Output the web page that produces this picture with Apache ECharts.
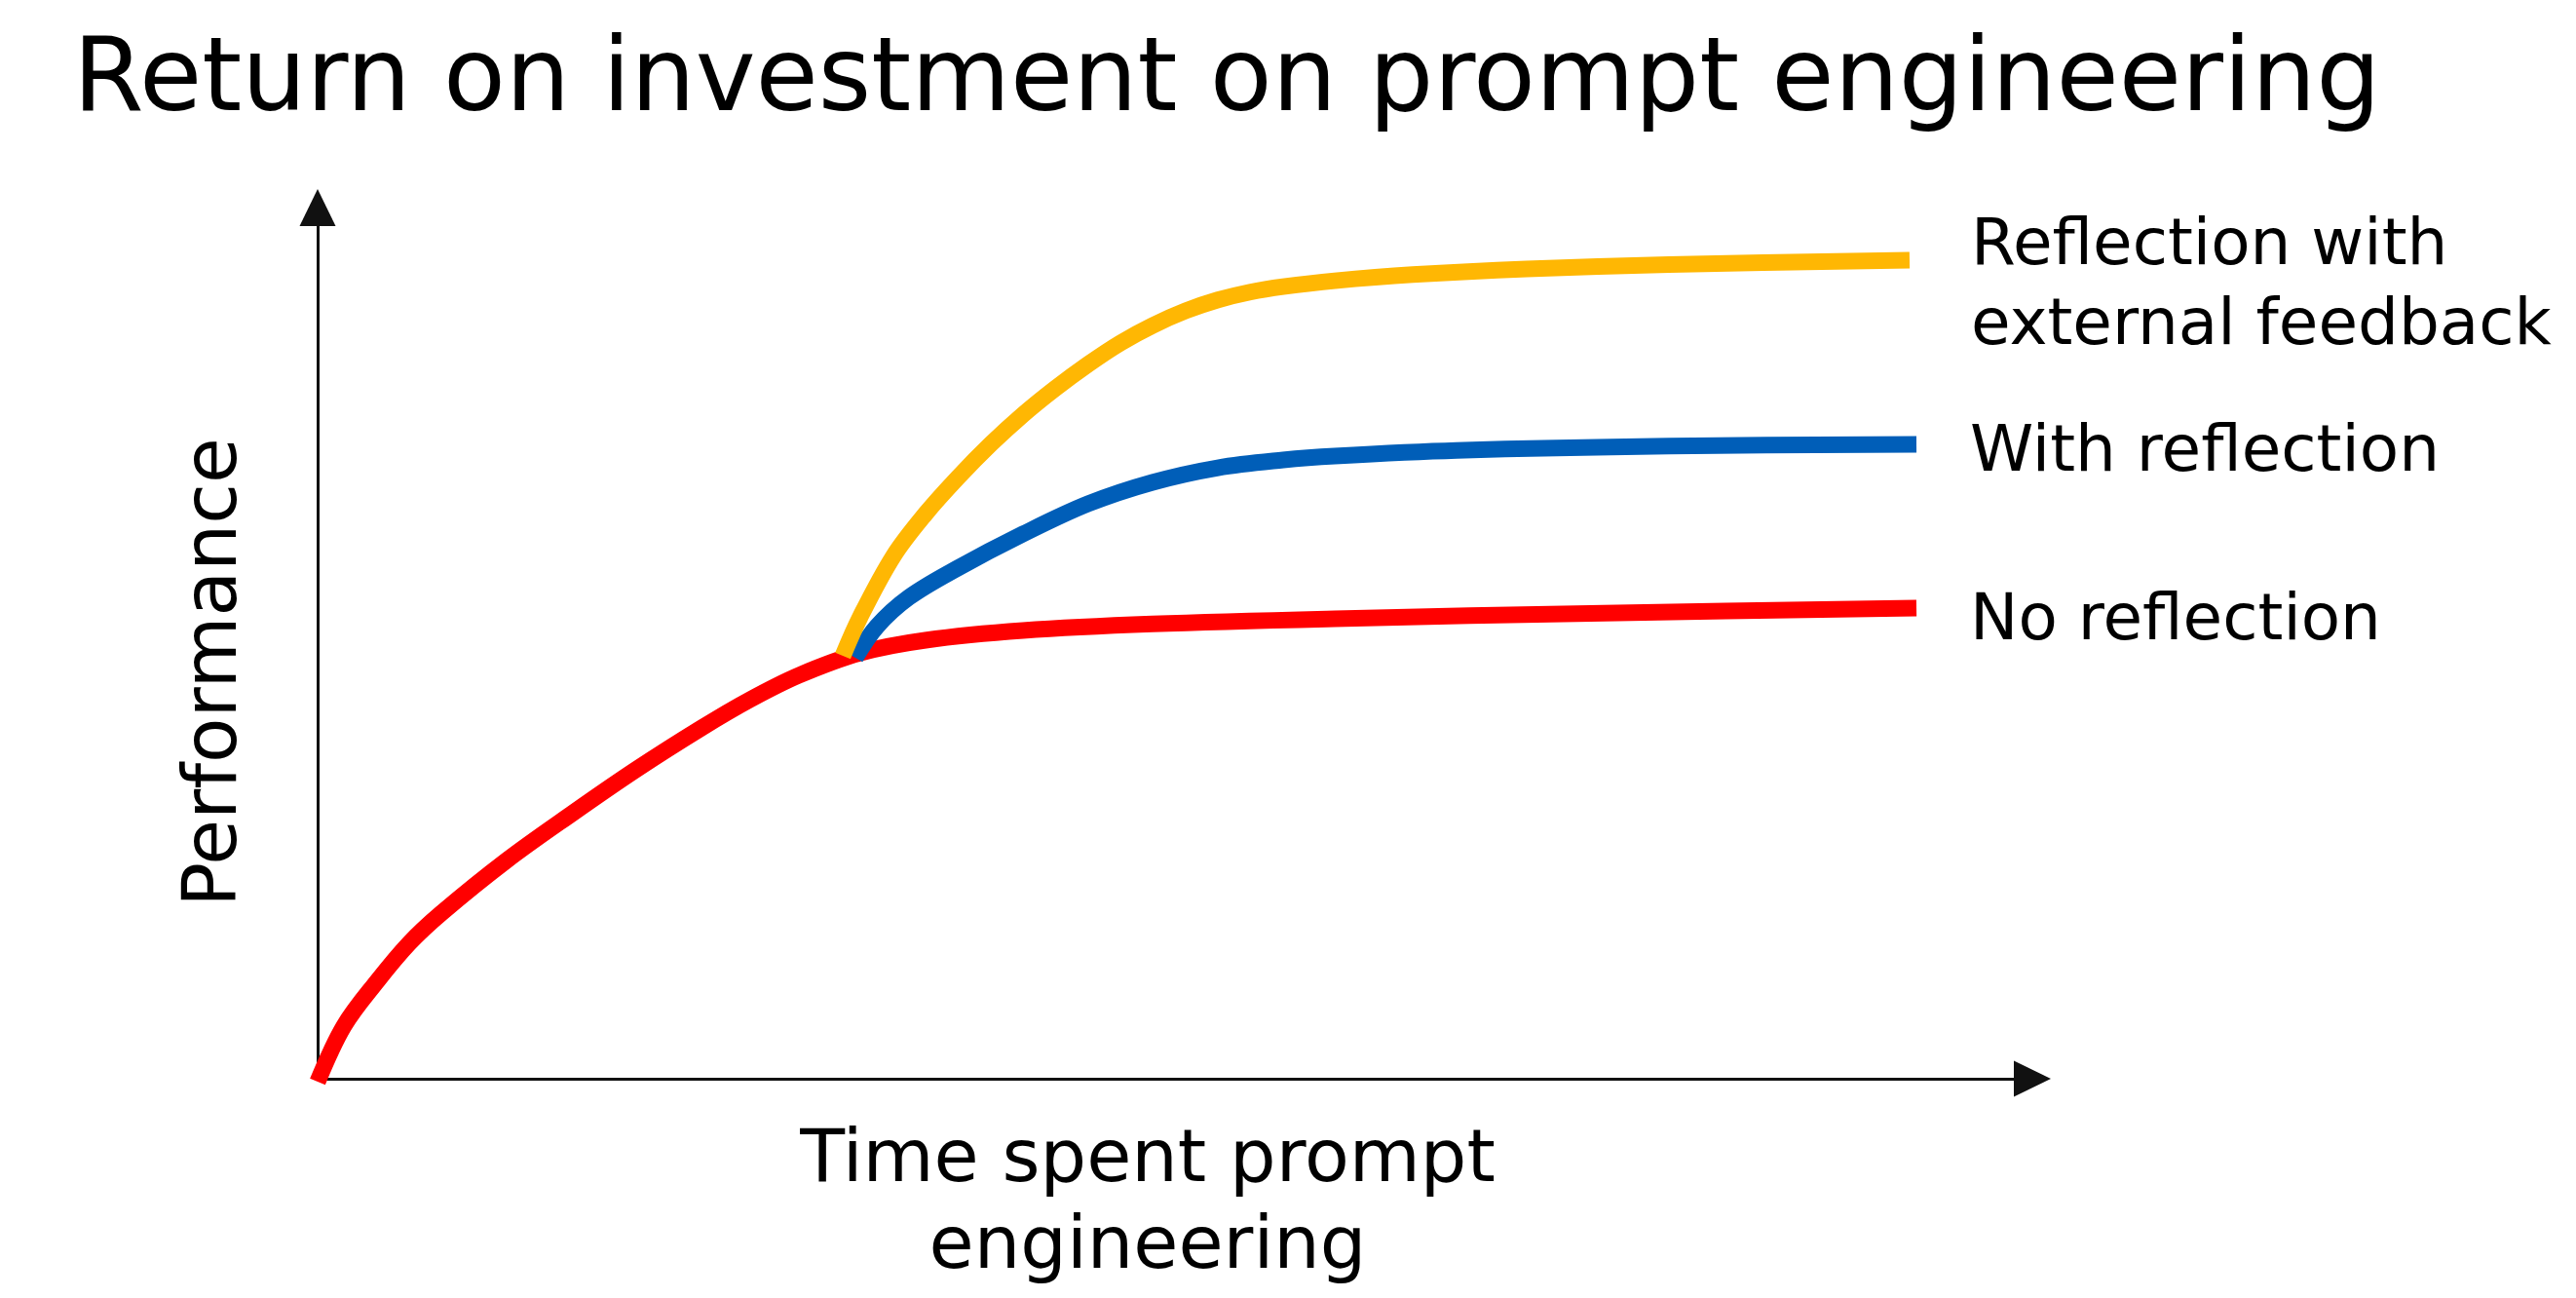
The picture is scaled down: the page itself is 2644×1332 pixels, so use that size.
<!DOCTYPE html>
<html>
<head>
<meta charset="utf-8">
<style>html,body{margin:0;padding:0;background:#fff;}#chart{width:2644px;height:1332px;}</style>
<script src="https://cdn.jsdelivr.net/npm/echarts@6/dist/echarts.min.js"></script>
</head>
<body>
<div id="chart"></div>
<script>
// Series names
const seriesNames = ['No reflection', 'With reflection', 'Reflection with\nexternal feedback'];
// [time spent, performance] (axis 0..100 each)
const noReflection = [[0, -0.34], [1.53, 6.04], [3.47, 11.19], [5.34, 15.55], [7.22, 19.02], [11.02, 25.06], [14.83, 30.43], [18.58, 35.5], [22.39, 40.27], [25.2, 43.5], [28.07, 46.31], [31.65, 48.88], [35.45, 50.34], [41.14, 51.45], [48.69, 52.2], [59.32, 52.8], [75.0, 53.45], [93.24, 54.03]];
const withReflection = [[31.36, 48.32], [32.61, 51.9], [34.49, 55.26], [37.33, 58.61], [41.14, 62.53], [44.94, 66.0], [48.69, 68.46], [52.5, 70.13], [56.31, 71.03], [59.32, 71.48], [66.42, 72.12], [78.81, 72.62], [93.24, 72.82]];
const externalFeedback = [[30.63, 48.55], [31.65, 53.04], [33.58, 59.99], [35.45, 64.85], [37.33, 68.99], [39.26, 72.85], [41.14, 76.23], [43.01, 79.22], [44.94, 82.02], [46.82, 84.46], [48.69, 86.46], [50.63, 88.15], [52.5, 89.4], [54.38, 90.3], [56.31, 90.92], [59.32, 91.6], [63.86, 92.3], [70.51, 92.95], [78.81, 93.45], [92.84, 93.96]];
const titleText = 'Return on investment on prompt engineering';
const xName = 'Time spent prompt\nengineering';
const yName = 'Performance';

const FONT = '"DejaVu Sans"';
const chart = echarts.init(document.getElementById('chart'));
function lineSeries(name, data, color, dist, off) {
  return {
    name: name, type: 'line', data: data, showSymbol: false, symbol: 'none',
    smooth: 0.35, clip: false,
    lineStyle: { color: color, width: 17, cap: 'butt' },
    itemStyle: { color: color },
    endLabel: {
      show: true, formatter: '{a}', distance: dist, offset: off,
      color: '#000', fontSize: 66, lineHeight: 82, fontFamily: FONT, align: 'left'
    }
  };
}
chart.setOption({
  animation: false,
  backgroundColor: '#fff',
  title: {
    text: titleText, left: 70, top: 28,
    textStyle: { fontFamily: FONT, fontSize: 104.5, fontWeight: 'normal', color: '#000' }
  },
  grid: { left: 326, right: 558, top: 213, bottom: 225 },
  xAxis: {
    type: 'value', min: 0, max: 100,
    axisLine: { show: true, lineStyle: { color: '#111', width: 3 }, symbol: ['none', 'triangle'], symbolSize: [37, 38] },
    axisTick: { show: false }, axisLabel: { show: false }, splitLine: { show: false },
    name: xName, nameLocation: 'middle', nameGap: 41,
    nameTextStyle: { fontFamily: FONT, fontSize: 75, lineHeight: 89, color: '#000', padding: [0, 56, 0, 0] }
  },
  yAxis: {
    type: 'value', min: 0, max: 100,
    axisLine: { show: true, lineStyle: { color: '#111', width: 3 }, symbol: ['none', 'triangle'], symbolSize: [37, 38] },
    axisTick: { show: false }, axisLabel: { show: false }, splitLine: { show: false },
    name: yName, nameLocation: 'middle', nameRotate: 90, nameGap: 66,
    nameTextStyle: { fontFamily: FONT, fontSize: 76, color: '#000', padding: [0, 60, 0, 0] }
  },
  series: [
    lineSeries(seriesNames[0], noReflection, '#FF0000', 55, [0, 15]),
    lineSeries(seriesNames[1], withReflection, '#005EB8', 55, [0, 10]),
    lineSeries(seriesNames[2], externalFeedback, '#FFB703', 63, [0, 28])
  ]
});
</script>
</body>
</html>
